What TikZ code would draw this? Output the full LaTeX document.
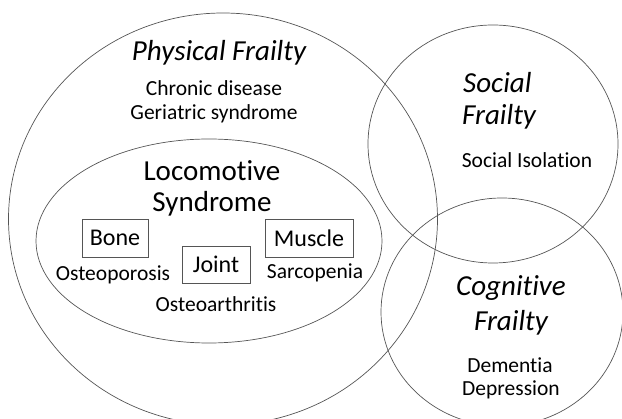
\documentclass[tikz,border=0pt]{standalone}
\usepackage{fontspec}
\setmainfont{Carlito}[Ligatures={NoCommon}]
\usepackage{tikz}
\usetikzlibrary{positioning}

\definecolor{rimgray}{RGB}{85,85,85}

\tikzset{
  venn/.style={draw=rimgray, line width=0.7pt},
  title/.style={font=\fontsize{29}{34}\selectfont\itshape, inner sep=0pt},
  loco/.style={font=\fontsize{29}{34}\selectfont, inner sep=0pt},
  tissue/.style={draw=rimgray, line width=0.7pt, font=\fontsize{24}{28}\selectfont, inner sep=0pt},
  item/.style={font=\fontsize{21.5}{25}\selectfont, inner sep=0pt}
}

\begin{document}
\begin{tikzpicture}[x=1pt, y=-1pt]
\useasboundingbox (0,0) rectangle (622,419);

% Frailty domains
\draw[venn] (223,219) ellipse [x radius=214.5pt, y radius=206pt];
\draw[venn] (493,144) ellipse [x radius=125pt, y radius=119pt];
\draw[venn] (502,312) ellipse [x radius=121pt, y radius=114pt];

% Locomotive syndrome
\draw[venn] (209,241) ellipse [x radius=173pt, y radius=102pt];

% Physical frailty
\node[title] (physical) at (219,53) {Physical Frailty};
\node[item] (chronic) at (214,88) {Chronic disease};
\node[item] (geriatric) at (214,114) {Geriatric syndrome};

\node[loco] (locomotive) at (212,171) {Locomotive};
\node[loco] (syndrome) at (212,204) {Syndrome};

% Tissues
\node[tissue, minimum width=66pt, minimum height=38pt] (bone) at (115,238) {Bone};
\node[tissue, minimum width=68pt, minimum height=37pt] (joint) at (216,264.5) {Joint};
\node[tissue, minimum width=88pt, minimum height=38pt] (muscle) at (309,238) {Muscle};
\node[item] (osteoporosis) at (113,275) {Osteoporosis};
\node[item] (sarcopenia) at (315,273) {Sarcopenia};
\node[item] (osteoarthritis) at (216,304) {Osteoarthritis};

% Social frailty
\node[title, anchor=west] (social) at (463,83) {Social};
\node[title, anchor=west] (socfrail) at (462,117) {Frailty};
\node[item] (isolation) at (527,160) {Social Isolation};

% Cognitive frailty
\node[title] (cognitive) at (511,288) {Cognitive};
\node[title] (cogfrail) at (511,323) {Frailty};
\node[item] (dementia) at (510,365) {Dementia};
\node[item] (depression) at (511,390) {Depression};
\end{tikzpicture}
\end{document}
